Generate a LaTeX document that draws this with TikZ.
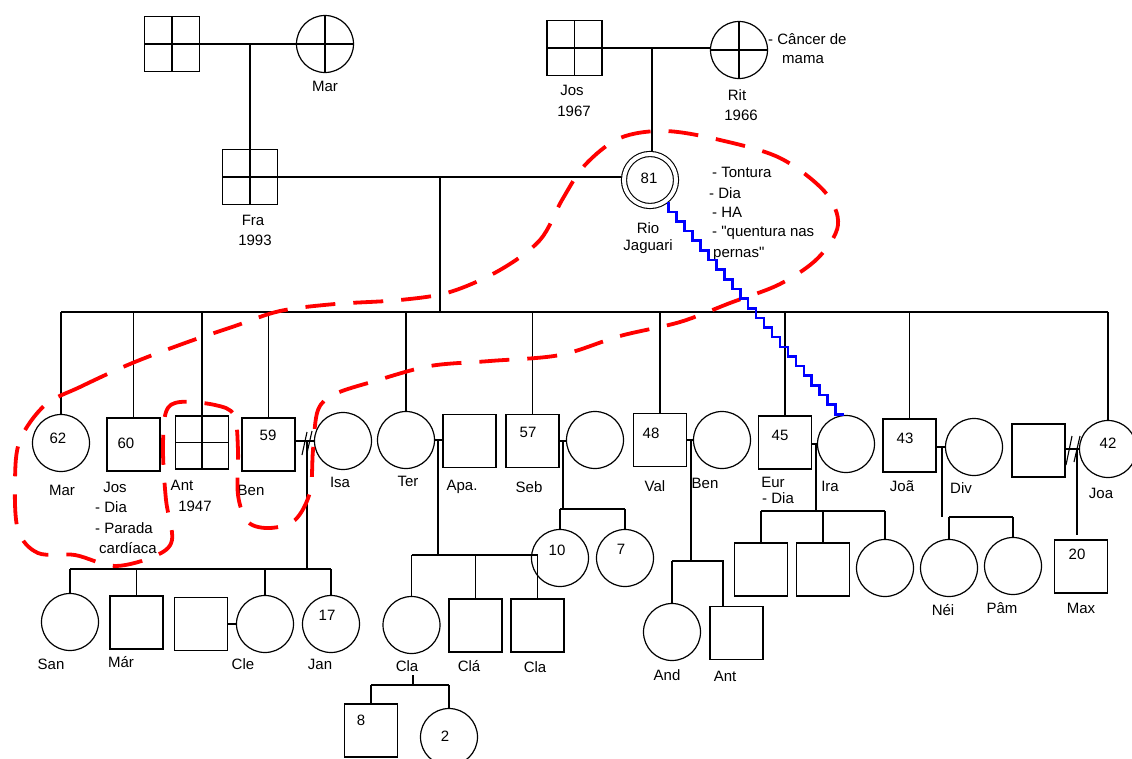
\documentclass[tikz,border=0pt]{standalone}
\usepackage{fontspec}
\setmainfont{Liberation Sans}[Ligatures=TeXOff]
\begin{document}
\begin{tikzpicture}[x=1pt,y=-1pt,
  ln/.style={line width=1.3pt},
  sq/.style={draw,line width=1.3pt,minimum size=53pt,inner sep=0pt,outer sep=0pt},
  bigsq/.style={sq,minimum size=55pt},
  ci/.style={draw,circle,line width=1.2pt,minimum size=57pt,inner sep=0pt,outer sep=0pt},
  cross/.style={path picture={\draw[line width=1.3pt] (path picture bounding box.north) -- (path picture bounding box.south) (path picture bounding box.west) -- (path picture bounding box.east);}},
  riostyle/.style={draw,circle,line width=1.1pt,double,double distance=4pt,minimum size=52pt,inner sep=0pt,outer sep=3pt},
  lbl/.style={font=\fontsize{15}{17}\selectfont,inner sep=0pt},
  note/.style={lbl,anchor=west},
  redloop/.style={draw=red,line width=3.8pt,dash pattern=on 30pt off 18pt},
  bluezz/.style={draw=blue,line width=2.6pt},
  divmark/.style={line width=1.1pt}
]
\useasboundingbox (0,0) rectangle (1132,758);
\begin{scope}
\clip (0,0) rectangle (1132,758);

% ---------- grandparents ----------
\node[bigsq,cross] (gf1) at (172,44) {};
\node[ci,cross] (gm1) at (325,44) {};
\draw[ln] (gf1) -- (gm1);
\coordinate (c1) at (250,44);
\node[bigsq,cross] (fra) at (250,177) {};
\draw[ln] (c1) -- (fra.north);
\node[lbl] (tmar) at (325,86) {Mar};
\node[lbl] (tfra) at (253,220) {Fra};
\node[lbl] (tfray) at (255,240) {1993};

\node[bigsq,cross] (gf2) at (574.5,48) {};
\node[ci,cross] (rit) at (739,50) {};
\draw[ln] (gf2.east) -- (gf2.east -| rit.west);
\node[lbl] (tjos) at (572,90) {Jos};
\node[lbl] (tjosy) at (574,111) {1967};
\node[lbl] (trit) at (737,95) {Rit};
\node[lbl] (trity) at (741,115) {1966};
\node[note] (tcan) at (768,39) {- Câncer de};
\node[lbl] (tmama) at (803,60) {mama};

\node[riostyle] (rio) at (650,180) {};
\coordinate (c2) at (652,48);
\draw[ln] (c2) -- (c2 |- rio.north);
\node[lbl] (t81) at (649,178) {81};
\node[lbl] (trio) at (648,228) {Rio};
\node[lbl] (tjag) at (648,247) {Jaguari};
\node[note] (n1) at (712,172) {- Tontura};
\node[note] (n2) at (709,193) {- Dia};
\node[note] (n3) at (712,212) {- HA};
\node[note] (n4) at (712,233) {- "quentura nas};
\node[note] (n5) at (713,254) {pernas"};

\draw[ln] (fra.east) -- (fra.east -| rio.west);
\coordinate (c3) at (440,177);
\coordinate (sib) at (440,312);
\draw[ln] (c3) -- (sib);

% ---------- children of Fra & Rio ----------
\node[ci] (mar) at (61,443) {};
\node[sq] (jos) at (133.5,444.5) {};
\node[sq,cross] (ant) at (202,442.5) {};
\node[sq] (ben) at (268.5,444.5) {};
\node[ci] (isa) at (343,441) {};
\node[ci] (ter) at (406,440) {};
\node[sq] (apa) at (469.5,441) {};
\node[sq] (seb) at (532.5,441) {};
\node[ci] (sebw) at (595,440) {};
\node[sq] (val) at (660,440) {};
\node[ci] (benv) at (722,440) {};
\node[sq] (eur) at (785,442.5) {};
\node[ci] (ira) at (846,444) {};
\node[sq] (joao) at (909.5,445.5) {};
\node[ci] (div) at (974,447) {};
\node[sq] (joah) at (1038.5,450.5) {};
\node[ci] (joa) at (1108,449) {};

\draw[ln] (mar.north |- sib) -- (joa.north |- sib);
\foreach \n in {mar,jos,ant,ben,ter,seb,val,eur,joao,joa}
  \draw[ln] (\n.north |- sib) -- (\n.north);

\node[lbl] (t62) at (58,438) {62};
\node[lbl] (tmar2) at (62,490) {Mar};
\node[lbl] (t60) at (126,443) {60};
\node[lbl] (tjos2) at (115,487) {Jos};
\node[note] (tjd) at (95,507) {- Dia};
\node[note] (tjp) at (95,528) {- Parada};
\node[note] (tjc) at (99,548) {cardíaca};
\node[lbl] (tant) at (182,485) {Ant};
\node[lbl] (tanty) at (195,506) {1947};
\node[lbl] (t59) at (268,435) {59};
\node[lbl] (tben) at (251,490) {Ben};
\node[lbl] (tisa) at (340,482) {Isa};
\node[lbl] (tter) at (408,481) {Ter};
\node[lbl] (tapa) at (462,487) {Apa.};
\node[lbl] (t57) at (528,432) {57};
\node[lbl] (tseb) at (529,487) {Seb};
\node[lbl] (t48) at (651,433) {48};
\node[lbl] (tval) at (655,486) {Val};
\node[lbl] (tbenv) at (705,483) {Ben};
\node[lbl] (t45) at (780,435) {45};
\node[lbl] (teur) at (773,482) {Eur};
\node[note] (teud) at (762,498) {- Dia};
\node[lbl] (tira) at (830,486) {Ira};
\node[lbl] (t43) at (905,438) {43};
\node[lbl] (tjoao) at (902,486) {Joã};
\node[lbl] (tdiv) at (961,488) {Div};
\node[lbl] (t42) at (1108,443) {42};
\node[lbl] (tjoa) at (1101,493) {Joa};

% ---------- Ben & Isa ----------
\draw[ln] (ben.east |- isa.west) -- (isa.west);
\draw[divmark] (302,455) -- (307,432) (307,453) -- (312,431);
\coordinate (cbi) at (307,441);
\coordinate (kbi) at (307,569);
\draw[ln] (cbi) -- (kbi);
\node[ci] (san) at (70,622) {};
\node[sq] (mar3) at (136.5,622.5) {};
\node[sq] (cleh) at (201,624) {};
\node[ci] (cle) at (265,624) {};
\node[ci] (jan) at (331,624) {};
\draw[ln] (san.north |- kbi) -- (jan.north |- kbi);
\foreach \n in {san,mar3,cle,jan}
  \draw[ln] (\n.north |- kbi) -- (\n.north);
\draw[ln] (cleh.east |- cle.west) -- (cle.west);
\node[lbl] (tsan) at (51,664) {San};
\node[lbl] (tmar3) at (121,662) {Már};
\node[lbl] (tcle) at (243,664) {Cle};
\node[lbl] (t17) at (327,615) {17};
\node[lbl] (tjan) at (320,664) {Jan};

% ---------- Ter & Apa ----------
\draw[ln] (ter.east) -- (ter.east -| apa.west);
\coordinate (cta) at (438,440);
\coordinate (kta) at (438,555);
\draw[ln] (cta) -- (kta);
\node[ci] (cla1) at (411.5,625) {};
\node[sq] (cla2) at (475.5,625.5) {};
\node[sq] (cla3) at (537.5,625.5) {};
\draw[ln] (cla1.north |- kta) -- (cla3.north |- kta);
\foreach \n in {cla1,cla2,cla3}
  \draw[ln] (\n.north |- kta) -- (\n.north);
\node[lbl] (tcla1) at (407,666) {Cla};
\node[lbl] (tcla2) at (469,666) {Clá};
\node[lbl] (tcla3) at (535,667) {Cla};
\coordinate (ccl) at (413,675);
\coordinate (kcl) at (413,685);
\draw[ln] (ccl) -- (kcl);
\node[sq] (s8) at (371,730.5) {};
\node[ci] (c2k) at (449,737) {};
\draw[ln] (s8.north |- kcl) -- (c2k.north |- kcl);
\foreach \n in {s8,c2k}
  \draw[ln] (\n.north |- kcl) -- (\n.north);
\node[lbl] (t8) at (361,720) {8};
\node[lbl] (t2) at (445,736) {2};

% ---------- Seb ----------
\draw[ln] (seb.east) -- (seb.east -| sebw.west);
\coordinate (csb) at (563,440);
\coordinate (ksb) at (563,509);
\draw[ln] (csb) -- (ksb);
\node[ci] (c10) at (560,558) {};
\node[ci] (c7) at (625,558) {};
\draw[ln] (c10.north |- ksb) -- (c7.north |- ksb);
\foreach \n in {c10,c7}
  \draw[ln] (\n.north |- ksb) -- (\n.north);
\node[lbl] (t10) at (557,550) {10};
\node[lbl] (t7) at (621,549) {7};

% ---------- Val & Ben ----------
\draw[ln] (val.east) -- (val.east -| benv.west);
\coordinate (cvb) at (691,440);
\coordinate (kvb) at (691,561);
\draw[ln] (cvb) -- (kvb);
\node[ci] (and) at (672,632) {};
\node[sq] (antv) at (736.5,633) {};
\coordinate (antvtop) at (723,606.5);
\draw[ln] (and.north |- kvb) -- (antvtop |- kvb) -- (antvtop);
\draw[ln] (and.north |- kvb) -- (and.north);
\node[lbl] (tand) at (667,675) {And};
\node[lbl] (tantv) at (725,676) {Ant};

% ---------- Eur & Ira ----------
\draw[ln] (eur.east |- ira.west) -- (ira.west);
\coordinate (cei) at (816,443);
\coordinate (kei) at (816,511);
\draw[ln] (cei) -- (kei);
\node[sq] (e1) at (761,569.5) {};
\node[sq] (e2) at (823,569.5) {};
\node[ci] (e3) at (885,568) {};
\draw[ln] (e1.north |- kei) -- (e3.north |- kei);
\foreach \n in {e1,e2,e3}
  \draw[ln] (\n.north |- kei) -- (\n.north);

% ---------- Joao & Div ----------
\draw[ln] (joao.east |- div.west) -- (div.west);
\coordinate (cjd) at (942,446);
\coordinate (kjd) at (942,517);
\draw[ln] (cjd) -- (kjd);
\node[ci] (nei) at (949,568) {};
\node[ci] (pam) at (1013,566) {};
\draw[ln] (nei.north |- kjd) -- (pam.north |- kjd);
\foreach \n in {nei,pam}
  \draw[ln] (\n.north |- kjd) -- (\n.north);
\node[lbl] (tnei) at (943,610) {Néi};
\node[lbl] (tpam) at (1002,608) {Pâm};

% ---------- Joa ----------
\draw[ln] (joah.east |- joa.west) -- (joa.west);
\draw[divmark] (1066,465) -- (1072,436) (1074,462) -- (1080,436);
\coordinate (cjj) at (1077,449);
\coordinate (kjj) at (1077,535);
\draw[ln] (cjj) -- (kjj);
\node[sq] (max) at (1081,566.5) {};
\node[lbl] (t20) at (1077,554) {20};
\node[lbl] (tmax) at (1081,608) {Max};

% ---------- red loop ----------
\draw[redloop] plot[smooth cycle, tension=0.55] coordinates {
 (45,405) (80,387) (130,364) (185,343) (235,326) (280,311) (335,304)
 (400,300) (450,292) (500,270) (540,240) (562,200) (585,165) (620,138)
 (665,131) (720,140) (780,158) (825,192) (838,225) (818,258) (780,284)
 (730,303) (680,322) (620,336) (560,355) (490,361) (430,366) (375,381)
 (335,394) (318,410) (313,450) (310,492) (295,520) (270,528) (248,522)
 (238,495) (238,450) (234,415) (215,405) (180,402) (166,412) (163,450)
 (166,500) (172,540) (155,556) (115,566) (75,555) (38,553) (18,530)
 (15,480) (20,440)};

% ---------- blue link ----------
\draw[bluezz] (rio.-50) \foreach \i in {1,...,22} { |- ++(7.95,9.64) };
\end{scope}
\end{tikzpicture}
\end{document}
